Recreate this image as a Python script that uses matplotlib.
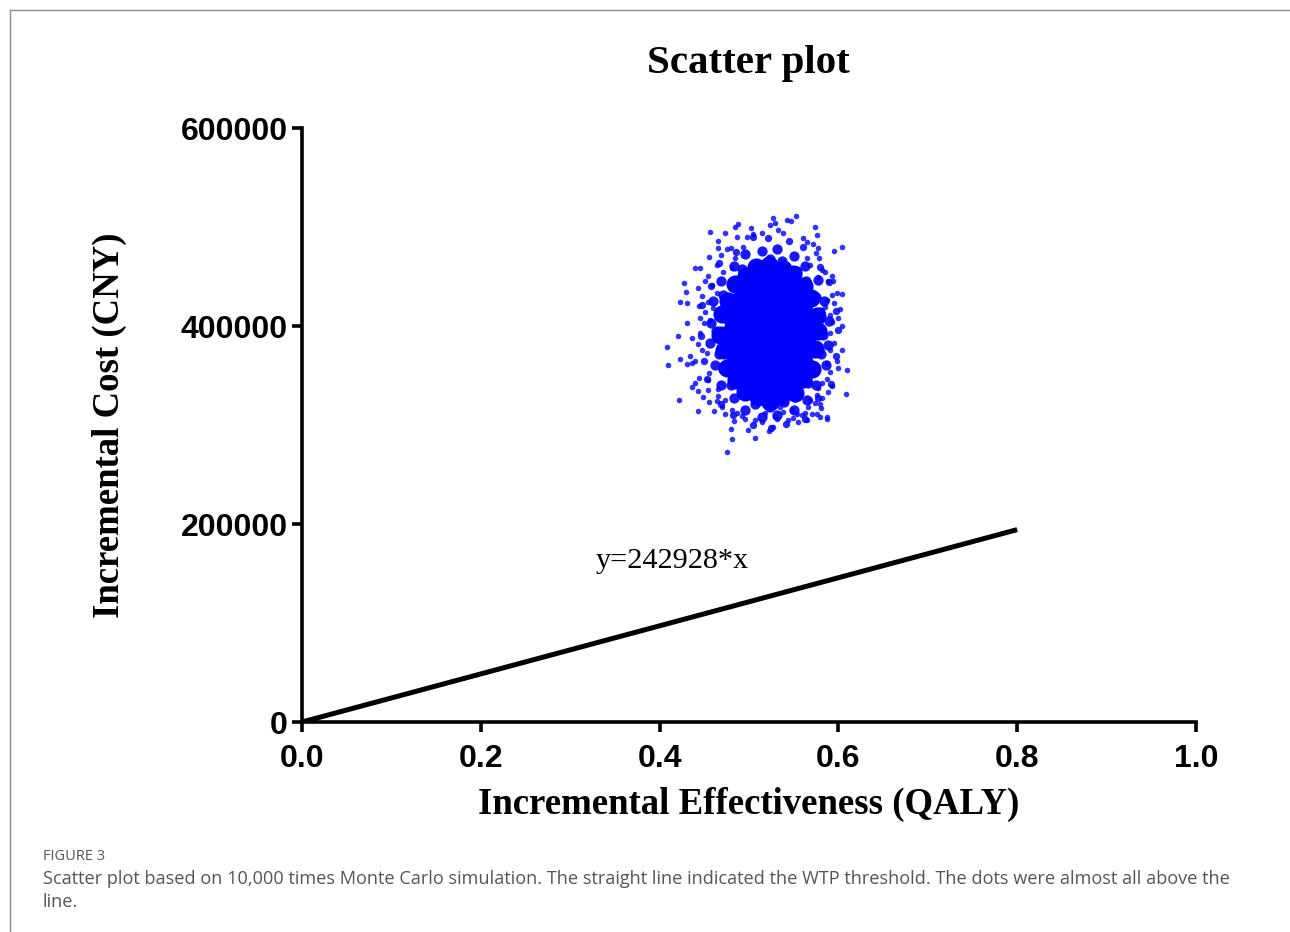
"""Cost-effectiveness scatter plot (Monte Carlo) with WTP threshold line."""

import matplotlib
matplotlib.use("Agg")
import matplotlib.pyplot as plt
from matplotlib.lines import Line2D

# WTP threshold line
wtp = 242928
line_x = [0.0, 0.8]
line_y = [wtp * v for v in line_x]

core_x = [0.510, 0.523, 0.536,
          0.497, 0.510, 0.523, 0.536, 0.549,
          0.489, 0.503, 0.516, 0.530, 0.543, 0.557,
          0.485, 0.497, 0.510, 0.523, 0.536, 0.549, 0.561,
          0.483, 0.496, 0.510, 0.523, 0.536, 0.550, 0.563,
          0.485, 0.497, 0.510, 0.523, 0.536, 0.549, 0.561,
          0.489, 0.503, 0.516, 0.530, 0.543, 0.557,
          0.497, 0.510, 0.523, 0.536, 0.549,
          0.510, 0.523, 0.536]
core_y = [449000] * 3 + [435000] * 5 + [421000] * 6 + [407000] * 7 + \
         [393000] * 7 + [379000] * 7 + [365000] * 6 + [351000] * 5 + [337000] * 3

# crowded points just around the solid centre
edge_x = [0.577, 0.576, 0.569, 0.562, 0.549, 0.538, 0.522, 0.508, 0.497, 0.484,
          0.477, 0.470, 0.468, 0.472, 0.475, 0.486, 0.495, 0.510, 0.524, 0.536,
          0.551, 0.560, 0.571, 0.574]
edge_y = [395000, 410000, 428000, 440000, 453000, 458000, 462000, 460000, 451000, 442000,
          425000, 412000, 391000, 376000, 358000, 346000, 333000, 328000, 323000, 329000,
          332000, 347000, 357000, 377000]

band_x = [
    0.583, 0.580, 0.575, 0.564, 0.554, 0.537, 0.524, 0.507, 0.492, 0.482,
    0.471, 0.467, 0.463, 0.467, 0.471, 0.480, 0.494, 0.507, 0.524, 0.539,
    0.552, 0.566, 0.573, 0.581,
    0.590, 0.584, 0.577, 0.563, 0.550, 0.531, 0.515, 0.496, 0.483, 0.469,
    0.460, 0.458, 0.456, 0.462, 0.469, 0.483, 0.496, 0.515, 0.531, 0.550,
    0.565, 0.575, 0.586, 0.588,
]
band_y = [
    391000, 414000, 429000, 446000, 456000, 466000, 468000, 463000, 458000, 444000,
    431000, 410000, 395000, 372000, 357000, 340000, 330000, 321000, 318000, 323000,
    328000, 342000, 355000, 372000,
    405000, 425000, 447000, 461000, 471000, 478000, 476000, 473000, 461000, 446000,
    425000, 403000, 383000, 361000, 340000, 327000, 315000, 308000, 310000, 315000,
    325000, 340000, 361000, 381000,
]

fringe_x = [0.600, 0.597, 0.589, 0.579, 0.560, 0.545, 0.521, 0.505, 0.486, 0.466,
            0.457, 0.447, 0.446, 0.450, 0.453, 0.469, 0.482, 0.505, 0.525, 0.541,
            0.563, 0.577, 0.592, 0.597]
fringe_y = [396000, 415000, 444000, 460000, 480000, 486000, 489000, 490000, 475000, 464000,
            440000, 421000, 390000, 365000, 347000, 321000, 310000, 300000, 297000, 301000,
            306000, 327000, 341000, 370000]

# scattered simulation points around the centre (incremental QALY, incremental cost)
outer_x = [
    0.488, 0.484, 0.456, 0.473, 0.502, 0.504, 0.487, 0.498, 0.465, 0.515,
    0.465, 0.475, 0.480, 0.493, 0.455, 0.469, 0.484, 0.440, 0.445, 0.464,
    0.454, 0.471, 0.481, 0.427, 0.451, 0.459, 0.443, 0.430, 0.464, 0.423,
    0.431, 0.447, 0.454, 0.444, 0.451, 0.460, 0.431, 0.445, 0.450, 0.456,
    0.527, 0.543, 0.547, 0.553, 0.529, 0.523, 0.574, 0.576, 0.538, 0.532,
    0.560, 0.565, 0.572, 0.577, 0.604, 0.595, 0.575, 0.578, 0.565, 0.568,
    0.582, 0.585, 0.593, 0.588, 0.594, 0.577, 0.598, 0.604, 0.593, 0.587,
    0.595, 0.602, 0.585, 0.591, 0.600, 0.604, 0.593, 0.583,
    0.421, 0.408, 0.409, 0.423, 0.431, 0.436, 0.434, 0.440, 0.436, 0.445,
    0.443, 0.447, 0.453, 0.444, 0.440, 0.436, 0.455, 0.454, 0.443, 0.454,
    0.449, 0.422, 0.455, 0.465, 0.465, 0.473, 0.443, 0.461, 0.473, 0.481,
    0.487, 0.483, 0.492, 0.480, 0.499, 0.507, 0.481, 0.507, 0.475, 0.496,
    0.470, 0.464,
    0.591, 0.595, 0.604, 0.591, 0.598, 0.587, 0.600, 0.610, 0.591, 0.587,
    0.582, 0.593, 0.588, 0.609, 0.577, 0.582, 0.576, 0.568, 0.574, 0.579,
    0.566, 0.581, 0.563, 0.570, 0.576, 0.579, 0.587, 0.587, 0.559, 0.554,
    0.549, 0.544, 0.555, 0.565, 0.531, 0.529, 0.527, 0.522, 0.538, 0.518,
    0.515, 0.548, 0.535,
]
outer_y = [
    503000, 500000, 495000, 494000, 499000, 493000, 490000, 490000, 486000, 494000,
    479000, 478000, 479000, 480000, 470000, 472000, 469000, 459000, 459000, 462000,
    451000, 455000, 459000, 443000, 446000, 441000, 438000, 434000, 433000, 424000,
    423000, 430000, 424000, 420000, 414000, 418000, 403000, 408000, 403000, 406000,
    509000, 507000, 506000, 511000, 504000, 502000, 500000, 492000, 494000, 497000,
    489000, 485000, 483000, 479000, 480000, 476000, 474000, 469000, 469000, 462000,
    457000, 455000, 451000, 445000, 446000, 450000, 433000, 432000, 431000, 426000,
    423000, 417000, 419000, 411000, 408000, 400000, 404000, 408000,
    390000, 379000, 361000, 367000, 362000, 363000, 370000, 365000, 388000, 393000,
    382000, 376000, 373000, 348000, 342000, 338000, 353000, 346000, 334000, 335000,
    328000, 325000, 323000, 336000, 329000, 325000, 314000, 314000, 311000, 315000,
    312000, 304000, 309000, 296000, 295000, 305000, 286000, 287000, 273000, 306000,
    318000, 324000,
    393000, 383000, 376000, 376000, 365000, 363000, 358000, 356000, 354000, 347000,
    342000, 339000, 333000, 331000, 337000, 327000, 330000, 325000, 322000, 321000,
    318000, 317000, 312000, 311000, 311000, 308000, 308000, 306000, 310000, 311000,
    307000, 305000, 303000, 305000, 306000, 308000, 298000, 294000, 313000, 312000,
    303000, 315000, 318000,
]

x_ticks = [0.0, 0.2, 0.4, 0.6, 0.8, 1.0]
y_ticks = [0, 200000, 400000, 600000]

serif = "Liberation Serif"
sans = "Liberation Sans"

fig = plt.figure(figsize=(12.9, 9.32), dpi=100)
ax = fig.add_axes([0.2341, 0.2253, 0.6930, 0.6373])

blue = "#0000ff"
ax.scatter(core_x, core_y, s=330, color=blue, linewidths=0, zorder=2)
ax.scatter(edge_x, edge_y, s=170, color=blue, linewidths=0, zorder=2)
ax.scatter(band_x, band_y, s=55, color=blue, alpha=0.9, linewidths=0, zorder=3)
ax.scatter(fringe_x, fringe_y, s=28, color=blue, alpha=0.85, linewidths=0, zorder=3)
ax.scatter(outer_x, outer_y, s=16, color=blue, alpha=0.8, linewidths=0, zorder=3)
ax.plot(line_x, line_y, color="black", lw=3.6, solid_capstyle="butt", zorder=4)
ax.text(0.328, 163000, f"y={wtp}*x", fontsize=21.8, family=serif, va="center", ha="left")

ax.set_xlim(0, 1.0)
ax.set_ylim(0, 600000)
ax.set_xticks(x_ticks)
ax.set_yticks(y_ticks)
ax.set_xticklabels([f"{v:.1f}" for v in x_ticks])
ax.set_yticklabels([str(v) for v in y_ticks])
for side in ("top", "right"):
    ax.spines[side].set_visible(False)
for side in ("left", "bottom"):
    ax.spines[side].set_linewidth(2.6)
ax.tick_params(direction="out", length=7, width=2.6, labelsize=23, pad=3)
ax.tick_params(axis="x", pad=9)
for lab in ax.get_xticklabels() + ax.get_yticklabels():
    lab.set_family(sans)
    lab.set_fontweight("bold")

ax.set_xlabel("Incremental Effectiveness (QALY)", fontsize=26.5, family=serif,
              fontweight="bold", labelpad=9)
ax.set_ylabel("Incremental Cost (CNY)", fontsize=26.5, family=serif,
              fontweight="bold", labelpad=39)
fig.text(0.5805, 1 - 64 / 932, "Scatter plot", fontsize=29.5, family=serif,
         fontweight="bold", ha="center", va="center")

# page frame and caption
frame = "#8a8a8a"
fig.add_artist(Line2D([10 / 1290, 1.0], [1 - 10 / 932, 1 - 10 / 932], color=frame, lw=1))
fig.add_artist(Line2D([10 / 1290, 10 / 1290], [0.0, 1 - 10 / 932], color=frame, lw=1))
fig.text(43 / 1290, 1 - 856 / 932, "FIGURE 3", fontsize=10.5, family="Open Sans",
         color="#555555", va="center")
fig.text(43 / 1290, 1 - 879 / 932,
         "Scatter plot based on 10,000 times Monte Carlo simulation. The straight line "
         "indicated the WTP threshold. The dots were almost all above the",
         fontsize=13.1, family="Open Sans", color="#555555", va="center")
fig.text(43 / 1290, 1 - 902 / 932, "line.", fontsize=13.1, family="Open Sans",
         color="#555555", va="center")

fig.savefig("out.png", dpi=100)
